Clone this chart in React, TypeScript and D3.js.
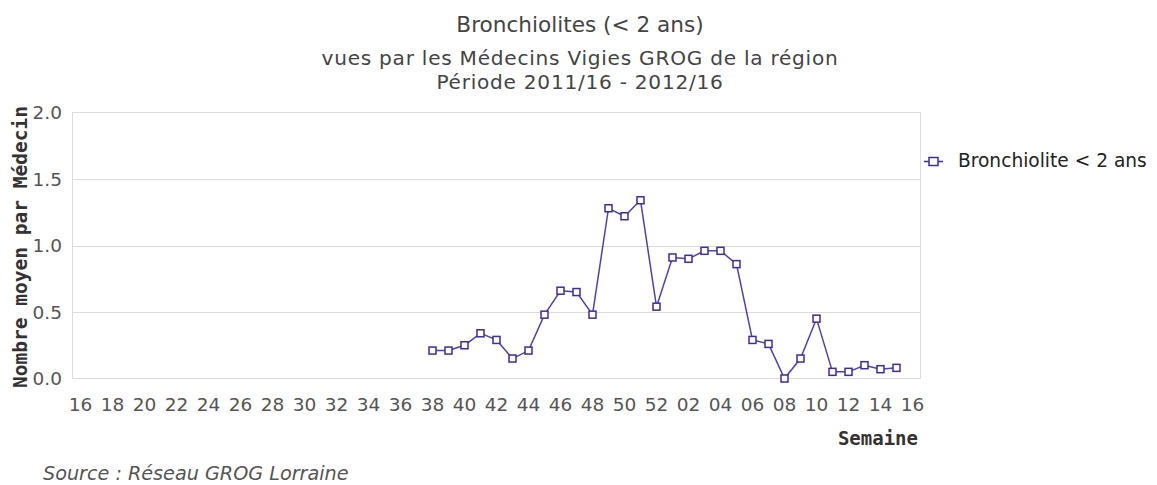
import React, { useEffect, useRef } from 'react';
import * as d3 from 'd3';

const weekLabels: string[] = [
  '16','17','18','19','20','21','22','23','24','25','26','27','28','29','30','31','32','33','34','35','36','37',
  '38','39','40','41','42','43','44','45','46','47','48','49','50','51','52',
  '01','02','03','04','05','06','07','08','09','10','11','12','13','14','15','16'
];

const values: (number | null)[] = [
  null,null,null,null,null,null,null,null,null,null,null,null,null,null,null,null,null,null,null,null,null,null,
  0.21,0.21,0.25,0.34,0.29,0.15,0.21,0.48,0.66,0.65,0.48,1.28,1.22,1.34,0.54,
  0.91,0.90,0.96,0.96,0.86,0.29,0.26,0.0,0.15,0.45,0.05,0.05,0.10,0.07,0.08,null
];

const yTicks = [0, 0.5, 1.0, 1.5, 2.0];
const titleText = 'Bronchiolites (< 2 ans)';
const subtitleLines = ['vues par les Médecins Vigies GROG de la région', 'Période 2011/16 - 2012/16'];
const seriesName = 'Bronchiolite < 2 ans';
const yAxisTitle = 'Nombre moyen par Médecin';
const xAxisTitle = 'Semaine';
const sourceText = 'Source : Réseau GROG Lorraine';

const W = 1157, H = 485;
const plot = { left: 72.5, right: 920.5, top: 112.5, bottom: 378.5 };
const color = '#3b2f9e';

export default function App() {
  const ref = useRef<SVGSVGElement>(null);
  useEffect(() => {
    const svg = d3.select(ref.current);
    svg.selectAll('*').remove();
    const font = '"DejaVu Sans", sans-serif';
    const mono = '"DejaVu Sans Mono", monospace';

    const x = d3.scaleBand<number>()
      .domain(weekLabels.map((_, i) => i))
      .range([plot.left, plot.right]);
    const xc = (i: number) => (x(i) as number) + x.bandwidth() / 2;
    const y = d3.scaleLinear().domain([0, 2]).range([plot.bottom, plot.top]);

    // title
    svg.append('text').attr('x', 580).attr('y', 31.5).attr('text-anchor', 'middle')
      .attr('font-family', font).attr('font-size', 21.6).attr('fill', '#444').text(titleText);
    subtitleLines.forEach((s, i) => {
      svg.append('text').attr('x', 580).attr('y', 65 + i * 23.5).attr('text-anchor', 'middle')
        .attr('font-family', font).attr('font-size', 20.1).attr('letter-spacing', 0.75)
        .attr('fill', '#444').text(s);
    });

    // grid
    const g = svg.append('g');
    g.append('rect').attr('x', plot.left).attr('y', plot.top)
      .attr('width', plot.right - plot.left).attr('height', plot.bottom - plot.top)
      .attr('fill', 'white').attr('stroke', '#dcdcdc').attr('stroke-width', 1);
    yTicks.forEach(t => {
      if (t === 0 || t === 2) return;
      g.append('line').attr('x1', plot.left).attr('x2', plot.right)
        .attr('y1', Math.round(y(t)) + 0.5).attr('y2', Math.round(y(t)) + 0.5)
        .attr('stroke', '#dcdcdc').attr('stroke-width', 1);
    });

    // y tick labels
    yTicks.forEach(t => {
      svg.append('text').attr('x', 62).attr('y', y(t)).attr('dy', '0.36em')
        .attr('text-anchor', 'end').attr('font-family', font).attr('font-size', 18.5)
        .attr('fill', '#555').text(d3.format('.1f')(t));
    });

    // x tick labels
    weekLabels.forEach((w, i) => {
      if (i % 2 !== 0) return;
      svg.append('text').attr('x', xc(i)).attr('y', 410.5).attr('text-anchor', 'middle')
        .attr('font-family', font).attr('font-size', 18.5).attr('fill', '#555').text(w);
    });

    // axis titles
    svg.append('text').attr('transform', `translate(27,247) rotate(-90)`)
      .attr('text-anchor', 'middle').attr('font-family', mono).attr('font-weight', 'bold')
      .attr('font-size', 19.5).attr('fill', '#333').text(yAxisTitle);
    svg.append('text').attr('x', 918).attr('y', 445).attr('text-anchor', 'end')
      .attr('font-family', mono).attr('font-weight', 'bold').attr('font-size', 19)
      .attr('fill', '#333').text(xAxisTitle);

    // series
    const pts = values.map((v, i) => ({ i, v })).filter(d => d.v !== null) as { i: number; v: number }[];
    const line = d3.line<{ i: number; v: number }>().x(d => xc(d.i)).y(d => y(d.v));
    svg.append('path').datum(pts).attr('d', line).attr('fill', 'none')
      .attr('stroke', color).attr('stroke-width', 1.5).attr('opacity', 0.9);
    svg.selectAll('rect.pt').data(pts).enter().append('rect').attr('class', 'pt')
      .attr('x', d => xc(d.i) - 3.5).attr('y', d => y(d.v) - 3.5)
      .attr('width', 7).attr('height', 7).attr('fill', 'white')
      .attr('stroke', color).attr('stroke-width', 1.5);

    // legend
    const ly = 161.5;
    svg.append('line').attr('x1', 924).attr('x2', 943).attr('y1', ly).attr('y2', ly)
      .attr('stroke', color).attr('stroke-width', 1.5);
    svg.append('rect').attr('x', 929).attr('y', ly - 4).attr('width', 9).attr('height', 8)
      .attr('fill', 'white').attr('stroke', color).attr('stroke-width', 1.5);
    svg.append('text').attr('x', 958).attr('y', 166.5)
      .attr('font-family', font).attr('font-size', 18.6).attr('fill', '#222').text(seriesName);

    // source
    svg.append('text').attr('x', 43).attr('y', 480).attr('font-family', font)
      .attr('font-style', 'italic').attr('font-size', 19.2).attr('fill', '#555').text(sourceText);
  }, []);
  return (
    <svg ref={ref} width={W} height={H}
      style={{ position: 'absolute', left: 0, top: 0, background: 'white' }} />
  );
}
